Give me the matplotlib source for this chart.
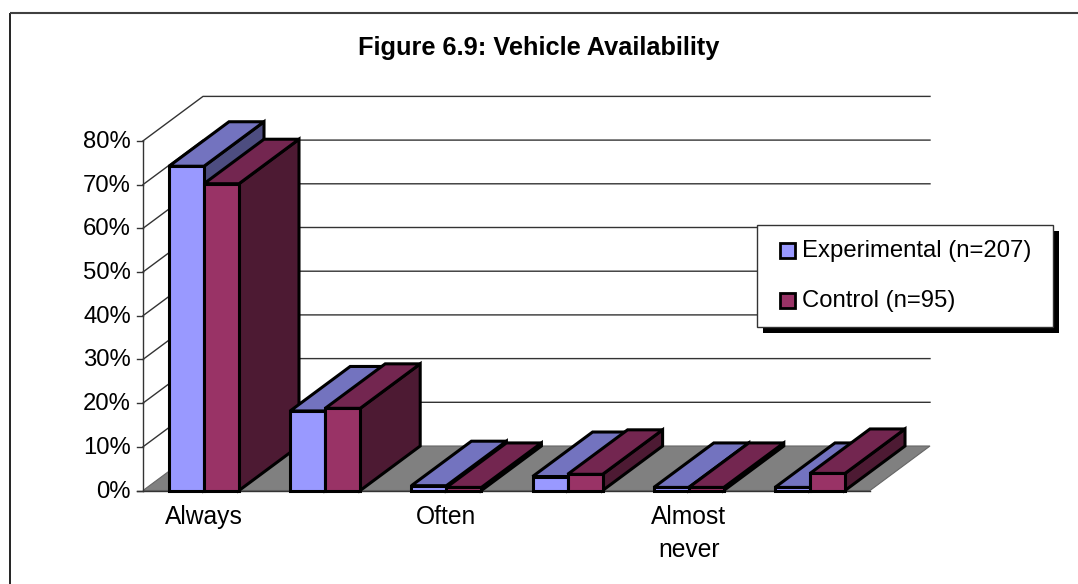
import matplotlib
matplotlib.use("Agg")
import matplotlib.pyplot as plt
from matplotlib.patches import Polygon, Rectangle

plt.rcParams['font.family'] = ['Liberation Sans', 'DejaVu Sans']

categories = ['Always', '', 'Often', '', 'Almost\nnever', '']
experimental = [74.2, 18.2, 1.1, 3.2, 0.7, 0.7]
control = [70.2, 18.8, 0.7, 3.7, 0.7, 3.9]
series_names = ['Experimental (n=207)', 'Control (n=95)']
y_ticks = [0, 10, 20, 30, 40, 50, 60, 70, 80]

# pseudo 3d layout, in pixels
x0 = 143
y0 = 490.5
px_per_pct = 4.37
depth_x = 60
depth_y = -44.5
floor_w = 727
group_start = 169
group_step = 121.2
bar_w = 35

EDGE = '#000000'
faces = [('#9999FF', '#7373BF', '#4D4D80'), ('#993366', '#732650', '#4D1A33')]


def val_y(v):
    return y0 - v * px_per_pct


def draw_bar(ax, x, v, colors):
    front, top, side = colors
    y = val_y(v)
    style = dict(edgecolor=EDGE, linewidth=2.2, joinstyle='miter', zorder=3)
    ax.add_patch(Polygon([(x + bar_w, y0), (x + bar_w + depth_x, y0 + depth_y),
                          (x + bar_w + depth_x, y + depth_y), (x + bar_w, y)],
                         facecolor=side, **style))
    ax.add_patch(Polygon([(x, y), (x + depth_x, y + depth_y),
                          (x + bar_w + depth_x, y + depth_y), (x + bar_w, y)],
                         facecolor=top, **style))
    ax.add_patch(Rectangle((x, y), bar_w, y0 - y, facecolor=front, **style))


fig = plt.figure(figsize=(10.78, 5.84), dpi=100)
ax = fig.add_axes([0, 0, 1, 1])
ax.set_xlim(0, 1078)
ax.set_ylim(584, 0)
ax.axis('off')

# outer frame, only top and left show in the picture
ax.plot([10, 10], [584, 13], color='#111111', lw=1.3, solid_capstyle='butt')
ax.plot([10, 1078], [13, 13], color='#404040', lw=1.5, solid_capstyle='butt')

ax.text(539, 48.5, 'Figure 6.9: Vehicle Availability', ha='center', va='center',
        fontsize=18.3, fontweight='bold', color='black')

# floor
ax.add_patch(Polygon([(x0, y0), (x0 + depth_x, y0 + depth_y),
                      (x0 + depth_x + floor_w, y0 + depth_y), (x0 + floor_w, y0)],
                     facecolor='#808080', edgecolor='#666666', linewidth=0.8, zorder=1))

# gridlines and ticks
for t in y_ticks:
    y = val_y(t)
    c = '#333333'
    if t > 0:
        ax.plot([x0, x0 + depth_x, x0 + depth_x + floor_w],
                [y, y + depth_y, y + depth_y], color=c, lw=1.0, zorder=2)
    ax.plot([x0 - 6, x0], [y, y], color=c, lw=1.0, zorder=2)
    ax.text(x0 - 12, y + 1, f'{t}%', ha='right', va='center', fontsize=17.2, color='black')
ax.plot([x0, x0], [val_y(80), y0], color='#333333', lw=1.0, zorder=2)
ax.plot([x0 - 6, x0 + floor_w], [y0, y0], color='#333333', lw=1.0, zorder=2)

# bars, left to right so later groups sit on top
for i in range(len(categories)):
    gx = group_start + i * group_step
    draw_bar(ax, gx, experimental[i], faces[0])
    draw_bar(ax, gx + bar_w, control[i], faces[1])
    if categories[i]:
        ax.text(gx + bar_w, 505, categories[i], ha='center', va='top',
                fontsize=17.7, color='black', linespacing=1.48)

# legend with shadow
ax.add_patch(Rectangle((763, 231), 296, 102, facecolor='black', edgecolor='none', zorder=5))
ax.add_patch(Rectangle((757, 225), 296, 102, facecolor='white', edgecolor='#333333',
                       linewidth=1.0, zorder=6))
for k, name in enumerate(series_names):
    ly = 250.5 + k * 50
    ax.add_patch(Rectangle((780, ly - 7.5), 15, 15, facecolor=faces[k][0], edgecolor='black',
                           linewidth=2.0, zorder=7))
    ax.text(802, ly, name, ha='left', va='center', fontsize=17.2, color='black', zorder=7)

fig.savefig('out.png', dpi=100)
